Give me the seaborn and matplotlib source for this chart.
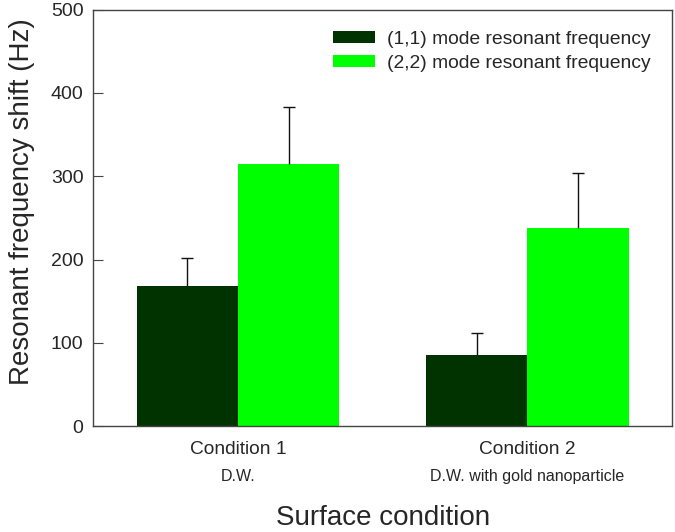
import pandas as pd
import numpy as np
import matplotlib.pyplot as plt
import seaborn as sns

# --- data ---
conditions = ['Condition 1', 'Condition 2']
sublabels = ['D.W.', 'D.W. with gold nanoparticle']
modes = ['(1,1) mode resonant frequency', '(2,2) mode resonant frequency']
shift_11 = [168, 85]
shift_22 = [315, 238]
err_11 = [34, 27]
err_22 = [68, 66]
colors = ['#003300', '#00ff00']

df = pd.DataFrame({
    'Condition': conditions * 2,
    'Mode': [modes[0]] * 2 + [modes[1]] * 2,
    'Shift': shift_11 + shift_22,
})

sns.set_style('ticks')
plt.rcParams['font.family'] = ['Liberation Sans', 'DejaVu Sans']

fig, ax = plt.subplots(figsize=(6.75, 5.32), dpi=100)
fig.subplots_adjust(left=0.138, right=0.9956, top=0.982, bottom=0.199)

sns.barplot(data=df, x='Condition', y='Shift', hue='Mode', palette=colors,
            width=0.7, errorbar=None, saturation=1, linewidth=0, ax=ax)

# upper-only error bars: stem from bar top plus a cap at the top
for cont, errs in zip(ax.containers, [err_11, err_22]):
    xs = np.array([p.get_x() + p.get_width() / 2 for p in cont.patches])
    hs = np.array([p.get_height() for p in cont.patches])
    tops = hs + np.array(errs)
    ax.vlines(xs, hs, tops, colors='#111111', linewidth=1, zorder=3)
    ax.plot(xs, tops, linestyle='none', marker='_', markersize=9,
            markeredgewidth=1, color='#111111', zorder=3)

ax.set_xlim(-0.5, 1.5)
ax.set_ylim(0, 500)
ax.set_yticks([0, 100, 200, 300, 400, 500])
ax.tick_params(axis='y', direction='in', length=7, labelsize=14, pad=7,
               color='#444444')
ax.tick_params(axis='x', length=0, labelsize=13.8, pad=11)
for s in ax.spines.values():
    s.set_visible(True)
    s.set_color('#444444')
    s.set_linewidth(1)

for i, lab in enumerate(sublabels):
    ax.text(i, -0.12, lab, transform=ax.get_xaxis_transform(),
            ha='center', va='center', fontsize=11.5)

ax.set_xlabel('Surface condition', fontsize=20)
ax.xaxis.set_label_coords(0.5, -0.19)
ax.set_ylabel('Resonant frequency shift (Hz)', fontsize=20)
ax.yaxis.set_label_coords(-0.10, 0.54)

ax.legend(loc='upper left', bbox_to_anchor=(0.4145, 0.949), frameon=False,
          fontsize=13.9, title=None, borderpad=0, borderaxespad=0,
          handlelength=2.17, handleheight=0.57, handletextpad=0.6,
          labelspacing=0.35)

plt.savefig('out.png', dpi=100)
